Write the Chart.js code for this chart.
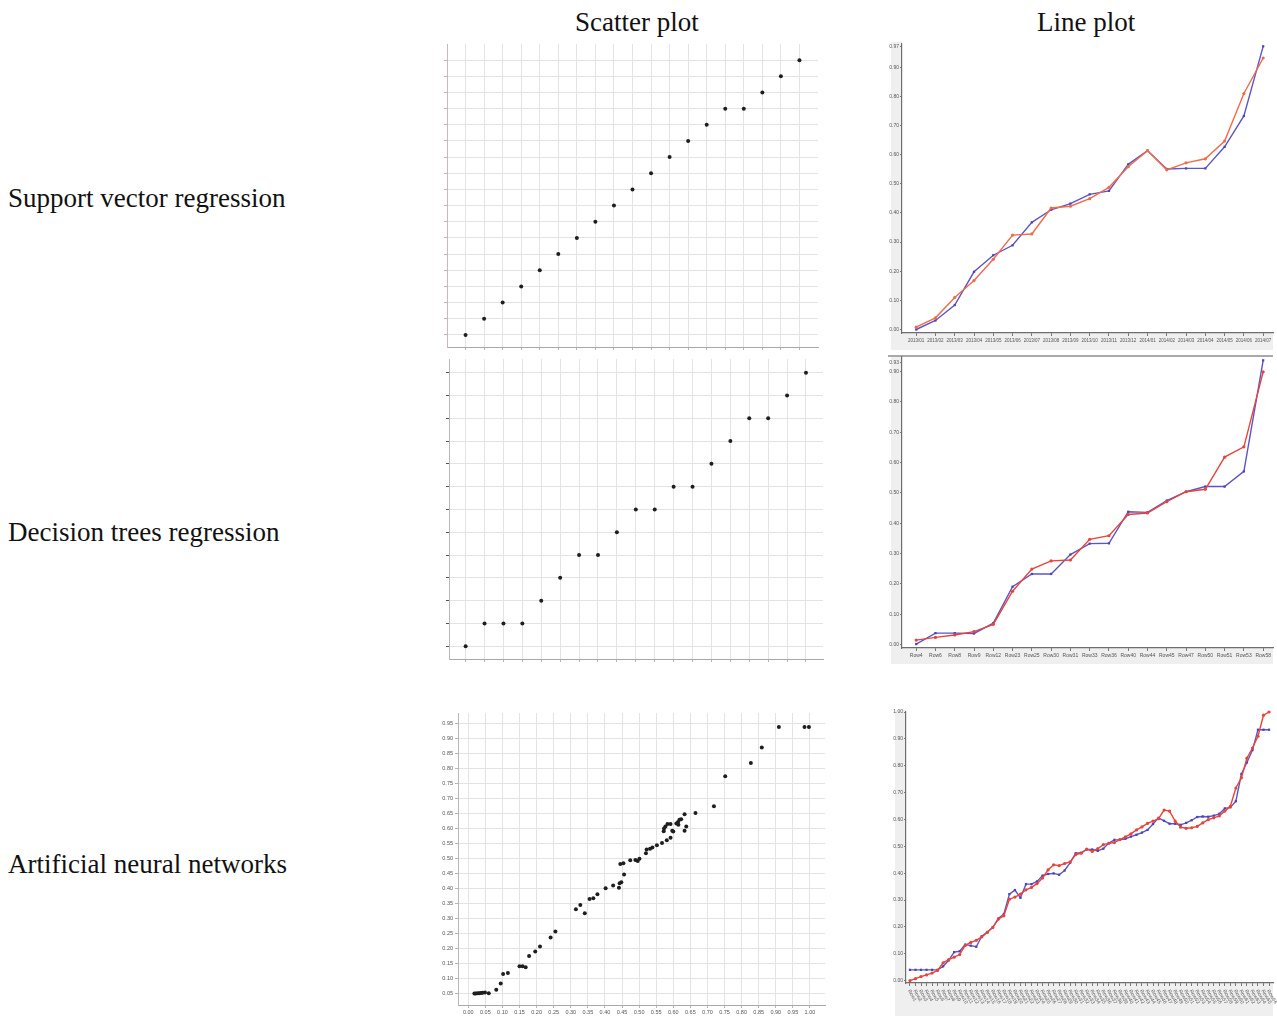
<!DOCTYPE html>
<html>
<head>
<meta charset="utf-8">
<script src="https://cdn.jsdelivr.net/npm/chart.js@4.4.1/dist/chart.umd.min.js"></script>
<style>
  html, body { margin: 0; padding: 0; background: #ffffff; }
  body { width: 1277px; height: 1016px; position: relative; overflow: hidden; }
  .lbl { position: absolute; font-family: "Liberation Serif", "Times New Roman", serif; font-size: 27px; color: #111; white-space: nowrap; line-height: 1; }
  canvas { position: absolute; }
</style>
</head>
<body>
<div class="lbl" id="colScatter" style="left:575px; top:9px;">Scatter plot</div>
<div class="lbl" id="colLine" style="left:1037px; top:9px;">Line plot</div>
<div class="lbl" style="left:8px; top:185px;">Support vector regression</div>
<div class="lbl" style="left:8px; top:519px;">Decision trees regression</div>
<div class="lbl" style="left:8px; top:851px;">Artificial neural networks</div>

<canvas id="c1" width="385" height="315" style="left:440px; top:40px;"></canvas>
<canvas id="c2" width="395" height="310" style="left:882px; top:40px;"></canvas>
<canvas id="c3" width="390" height="310" style="left:440px; top:355px;"></canvas>
<canvas id="c4" width="395" height="312" style="left:882px; top:352px;"></canvas>
<canvas id="c5" width="400" height="311" style="left:430px; top:705px;"></canvas>
<canvas id="c6" width="393" height="310" style="left:884px; top:706px;"></canvas>

<script>
// ---------------- DATA ----------------
// Support vector regression — scatter
const svrScatterX = [1,2,3,4,5,6,7,8,9,10,11,12,13,14,15,16,17,18,19];
const svrScatterY = [1,2,3,4,5,6,7,8,9,10,11,12,13,14,15,15,16,17,18];
const svrScatterXTicks = [1,2,3,4,5,6,7,8,9,10,11,12,13,14,15,16,17,18,19];
const svrScatterYTicks = [1,2,3,4,5,6,7,8,9,10,11,12,13,14,15,16,17,18];

// Decision trees regression — scatter
const dtScatterX = [1,2,3,4,5,6,7,8,9,10,11,12,13,14,15,16,17,18,19];
const dtScatterY = [1,2,2,2,3,4,5,5,6,7,7,8,8,9,10,11,11,12,13];
const dtScatterXTicks = [1,2,3,4,5,6,7,8,9,10,11,12,13,14,15,16,17,18,19];
const dtScatterYTicks = [1,2,3,4,5,6,7,8,9,10,11,12,13];

// Artificial neural networks — scatter
const annScatterX = [0.018,0.022,0.027,0.032,0.037,0.042,0.049,0.060,0.082,0.095,0.102,0.116,0.150,0.159,0.168,0.178,0.196,0.210,
  0.241,0.255,0.315,0.328,0.341,0.355,0.366,0.378,0.402,0.424,0.441,0.443,0.448,0.456,0.445,0.454,0.474,0.489,0.496,0.501,
  0.520,0.522,0.532,0.539,0.552,0.567,0.581,0.592,0.572,0.573,0.577,0.583,0.592,0.597,0.600,0.609,0.614,0.618,0.623,0.615,
  0.633,0.633,0.638,0.665,0.719,0.752,0.827,0.859,0.909,0.984,0.997];
const annScatterY = [0.049,0.049,0.050,0.050,0.051,0.052,0.053,0.050,0.062,0.083,0.114,0.118,0.140,0.140,0.137,0.174,0.189,0.206,
  0.236,0.256,0.330,0.344,0.317,0.364,0.367,0.380,0.400,0.409,0.402,0.417,0.420,0.446,0.481,0.483,0.493,0.494,0.491,0.498,
  0.517,0.529,0.532,0.536,0.543,0.551,0.560,0.568,0.590,0.599,0.606,0.614,0.614,0.592,0.589,0.616,0.621,0.628,0.630,0.612,
  0.647,0.592,0.606,0.651,0.673,0.773,0.817,0.869,0.937,0.937,0.937];
const annScatterXTicks = [0.00,0.05,0.10,0.15,0.20,0.25,0.30,0.35,0.40,0.45,0.50,0.55,0.60,0.65,0.70,0.75,0.80,0.85,0.90,0.95,1.00];
const annScatterYTicks = [0.05,0.10,0.15,0.20,0.25,0.30,0.35,0.40,0.45,0.50,0.55,0.60,0.65,0.70,0.75,0.80,0.85,0.90,0.95];

// Support vector regression — line
const svrLineLabels = ["2013/01","2013/02","2013/03","2013/04","2013/05","2013/06","2013/07","2013/08","2013/09","2013/10",
  "2013/11","2013/12","2014/01","2014/02","2014/03","2014/04","2014/05","2014/06","2014/07"];
const svrLineBlue = [0.000,0.031,0.084,0.198,0.255,0.289,0.368,0.411,0.432,0.464,0.476,0.567,0.614,0.551,0.553,0.553,0.627,0.733,0.972];
const svrLineRed  = [0.008,0.040,0.110,0.168,0.241,0.324,0.328,0.417,0.423,0.449,0.488,0.559,0.614,0.548,0.572,0.586,0.647,0.810,0.932];
const svrLineYTicks = [0.0,0.1,0.2,0.3,0.4,0.5,0.6,0.7,0.8,0.9,0.97];

// Decision trees regression — line
const dtLineLabels = ["Row4","Row6","Row8","Row9","Row12","Row23","Row25","Row30","Row31","Row33","Row36","Row40","Row44",
  "Row45","Row47","Row50","Row51","Row53","Row58"];
const dtLineBlue = [0.002,0.038,0.038,0.037,0.071,0.191,0.233,0.233,0.297,0.333,0.334,0.438,0.436,0.475,0.504,0.521,0.521,0.571,0.937];
const dtLineRed  = [0.015,0.024,0.032,0.043,0.067,0.176,0.249,0.276,0.279,0.347,0.359,0.429,0.434,0.471,0.504,0.512,0.618,0.652,0.899];
const dtLineYTicks = [0.0,0.1,0.2,0.3,0.4,0.5,0.6,0.7,0.8,0.9,0.93];

// Artificial neural networks — line
const annLineLabels = ["Row1","Row2","Row3","Row4","Row5","Row6","Row7","Row8","Row9","Row10","Row11","Row12","Row13","Row14",
  "Row15","Row16","Row17","Row18","Row19","Row20","Row21","Row22","Row23","Row24","Row25","Row26","Row27","Row28","Row29",
  "Row30","Row31","Row32","Row33","Row34","Row35","Row36","Row37","Row38","Row39","Row40","Row41","Row42","Row43","Row44",
  "Row45","Row46","Row47","Row48","Row49","Row50","Row51","Row52","Row53","Row54","Row55","Row56","Row57","Row58","Row59",
  "Row60","Row61","Row62","Row63","Row64","Row65","Row66"];
const annLineBlue = [0.040,0.040,0.040,0.040,0.040,0.040,0.053,0.075,0.106,0.109,0.134,0.130,0.126,0.165,0.181,0.198,0.231,0.248,
  0.322,0.337,0.308,0.359,0.359,0.369,0.391,0.397,0.399,0.394,0.410,0.439,0.474,0.476,0.488,0.488,0.483,0.491,0.512,0.524,
  0.524,0.528,0.536,0.543,0.551,0.561,0.583,0.606,0.595,0.584,0.584,0.580,0.587,0.597,0.609,0.611,0.610,0.614,0.621,0.641,
  0.645,0.668,0.769,0.812,0.858,0.934,0.934,0.934];
const annLineRed = [0.000,0.007,0.015,0.021,0.028,0.038,0.066,0.078,0.087,0.097,0.131,0.142,0.150,0.163,0.179,0.198,0.229,0.241,
  0.303,0.311,0.322,0.338,0.347,0.361,0.382,0.412,0.431,0.428,0.436,0.442,0.469,0.474,0.490,0.481,0.491,0.506,0.511,0.514,
  0.525,0.535,0.546,0.561,0.572,0.585,0.594,0.603,0.635,0.631,0.594,0.571,0.567,0.569,0.574,0.587,0.599,0.606,0.613,0.631,
  0.649,0.717,0.755,0.828,0.866,0.910,0.988,1.000];
const annLineYTicks = [0.0,0.1,0.2,0.3,0.4,0.5,0.6,0.7,0.8,0.9,1.0];

// ---------------- HELPERS ----------------
Chart.defaults.font.family = "'Liberation Sans', Arial, sans-serif";
const setTicks = vals => (s => { s.ticks = vals.map(v => ({ value: v })); });
const fixSize = n => (s => { if (s.isHorizontal()) s.height = n; else s.width = n; });
const toPts = (xs, ys) => xs.map((x, i) => ({ x: x, y: ys[i] }));
const idxPts = (ys) => ys.map((y, i) => ({ x: i + 1, y: y }));
const idxTicks = (n) => Array.from({ length: n }, (_, i) => i + 1);

const baseOpts = {
  responsive: false,
  animation: false,
  events: [],
  plugins: { legend: { display: false }, tooltip: { enabled: false }, title: { display: false } }
};

function scatterChart(id, xs, ys, cfg) {
  return new Chart(document.getElementById(id), {
    type: 'scatter',
    data: { datasets: [{ data: toPts(xs, ys), pointRadius: 2, pointBackgroundColor: '#1e1e1e', pointBorderWidth: 0, clip: 4 }] },
    options: Object.assign({}, baseOpts, {
      layout: { padding: cfg.pad },
      scales: {
        x: {
          type: 'linear', min: cfg.xMin, max: cfg.xMax,
          afterBuildTicks: setTicks(cfg.xTicks), afterFit: fixSize(cfg.xH),
          grid: { color: '#e3e3e3', lineWidth: 1, tickLength: 3, tickColor: '#b5b5b5' },
          border: { color: '#a8a8a8', width: 1 },
          ticks: cfg.xLabels ? { display: true, font: { size: 5.5 }, color: '#555', padding: 1, maxRotation: 0, autoSkip: false,
                   callback: v => Number(v).toFixed(2) } : { display: false }
        },
        y: {
          type: 'linear', min: cfg.yMin, max: cfg.yMax,
          afterBuildTicks: setTicks(cfg.yTicks), afterFit: fixSize(cfg.yW),
          grid: { color: '#e3e3e3', lineWidth: 1, tickLength: 3, tickColor: cfg.yTickColor || '#b5b5b5' },
          border: { color: cfg.yBorder || '#c8b8b8', width: 1 },
          ticks: cfg.yLabels ? { display: true, font: { size: 5.5 }, color: '#555', padding: 2, autoSkip: false,
                   callback: v => Number(v).toFixed(2) } : { display: false }
        }
      }
    })
  });
}

const axisBgPlugin = {
  id: 'axisBg',
  beforeDraw(chart, args, opts) {
    const ctx = chart.ctx, ca = chart.chartArea;
    ctx.save();
    ctx.fillStyle = '#efefef';
    ctx.fillRect(ca.left - 11, ca.top - 2, 11, ca.bottom - ca.top + 2);
    ctx.fillRect(ca.left - 11, ca.bottom, ca.right - ca.left + 11, chart.height - ca.bottom);
    if (opts && opts.topBorder) {
      ctx.fillStyle = '#a9a9a9';
      ctx.fillRect(ca.left - 14, ca.top - 2, ca.right - ca.left + 14, 2);
    }
    ctx.restore();
  }
};

const slantLabelsPlugin = {
  id: 'slantLabels',
  afterDraw(chart, args, opts) {
    if (!opts || !opts.labels) return;
    const ctx = chart.ctx, xs = chart.scales.x, ca = chart.chartArea;
    ctx.save();
    ctx.fillStyle = '#5a5a5a';
    ctx.font = "5px 'Liberation Sans', Arial, sans-serif";
    ctx.textAlign = 'left';
    ctx.textBaseline = 'middle';
    opts.labels.forEach((lab, i) => {
      const x = xs.getPixelForValue(i + 1);
      ctx.save();
      ctx.translate(x - 1, ca.bottom + 7);
      ctx.rotate(60 * Math.PI / 180);
      ctx.fillText(lab, 0, 0);
      ctx.restore();
    });
    ctx.restore();
  }
};

function lineChart(id, labels, blue, red, cfg) {
  return new Chart(document.getElementById(id), {
    type: 'line',
    data: {
      datasets: [
        { data: idxPts(red), borderColor: cfg.red, backgroundColor: cfg.red, borderWidth: 1.4,
          pointRadius: 1.6, pointBorderWidth: 0, pointBackgroundColor: cfg.red, tension: 0, fill: false, clip: 4 },
        { data: idxPts(blue), borderColor: '#5b55c9', backgroundColor: '#5b55c9', borderWidth: 1.4,
          pointRadius: 1.6, pointStyle: 'rect', pointBorderWidth: 0, pointBackgroundColor: '#4a44b8', tension: 0, fill: false, clip: 4 }
      ]
    },
    options: Object.assign({}, baseOpts, {
      layout: { padding: cfg.pad },
      plugins: Object.assign({}, baseOpts.plugins, {
        axisBg: { topBorder: !!cfg.topBorder },
        slantLabels: { labels: cfg.slant ? labels : null }
      }),
      scales: {
        x: {
          type: 'linear', min: cfg.xMin, max: cfg.xMax,
          afterBuildTicks: setTicks(idxTicks(labels.length)), afterFit: fixSize(cfg.xH),
          grid: { drawOnChartArea: false, tickLength: 3, tickColor: '#777' },
          border: { color: '#6e6e6e', width: 1.2 },
          ticks: cfg.slant ? { display: false } : { display: true, font: { size: cfg.xFont || 5 }, color: '#555', padding: 2,
                   maxRotation: 0, minRotation: 0, autoSkip: false, callback: v => labels[Math.round(v) - 1] }
        },
        y: {
          type: 'linear', min: cfg.yMin, max: cfg.yMax,
          afterBuildTicks: setTicks(cfg.yTicks), afterFit: fixSize(cfg.yW),
          grid: { drawOnChartArea: false, tickLength: 2, tickColor: '#777' },
          border: { color: '#6e6e6e', width: 1.2 },
          ticks: { display: true, font: { size: 5 }, color: '#555', padding: 1, autoSkip: false,
                   callback: v => Number(v).toFixed(2) }
        }
      }
    }),
    plugins: [axisBgPlugin, slantLabelsPlugin]
  });
}

// ---------------- CHARTS ----------------
scatterChart('c1', svrScatterX, svrScatterY, {
  pad: { top: 3, right: 7, left: 0, bottom: 0 }, xH: 8, yW: 7,
  xMin: 0, xMax: 20, yMin: 0.25, yMax: 19, xTicks: svrScatterXTicks, yTicks: svrScatterYTicks
});
scatterChart('c3', dtScatterX, dtScatterY, {
  pad: { top: 3, right: 7, left: 0, bottom: 0 }, xH: 6, yW: 9,
  xMin: 0.12, xMax: 19.9, yMin: 0.44, yMax: 13.6, xTicks: dtScatterXTicks, yTicks: dtScatterYTicks,
  yTickColor: '#555', yBorder: '#b8b8b8'
});
scatterChart('c5', annScatterX, annScatterY, {
  pad: { top: 8, right: 5, left: 0, bottom: 0 }, xH: 11, yW: 28,
  xMin: -0.03, xMax: 1.044, yMin: 0.011, yMax: 0.984, xTicks: annScatterXTicks, yTicks: annScatterYTicks,
  xLabels: true, yLabels: true, yBorder: '#b8b8b8'
});

lineChart('c2', svrLineLabels, svrLineBlue, svrLineRed, {
  pad: { top: 3, right: 0, left: 0, bottom: 0 }, xH: 17, yW: 20, xFont: 4.5,
  xMin: 0.264, xMax: 19.51, yMin: -0.012, yMax: 0.98, yTicks: svrLineYTicks, red: '#f36a48'
});
lineChart('c4', dtLineLabels, dtLineBlue, dtLineRed, {
  pad: { top: 5, right: 0, left: 0, bottom: 0 }, xH: 16, yW: 20,
  xMin: 0.264, xMax: 19.51, yMin: -0.011, yMax: 0.948, yTicks: dtLineYTicks, red: '#e8443a', topBorder: true
});
lineChart('c6', annLineLabels, annLineBlue, annLineRed, {
  pad: { top: 6, right: 0, left: 0, bottom: 0 }, xH: 33, yW: 22,
  xMin: 0.28, xMax: 66.72, yMin: -0.009, yMax: 1.0, yTicks: annLineYTicks, red: '#e8443a', slant: true
});
</script>
</body>
</html>
